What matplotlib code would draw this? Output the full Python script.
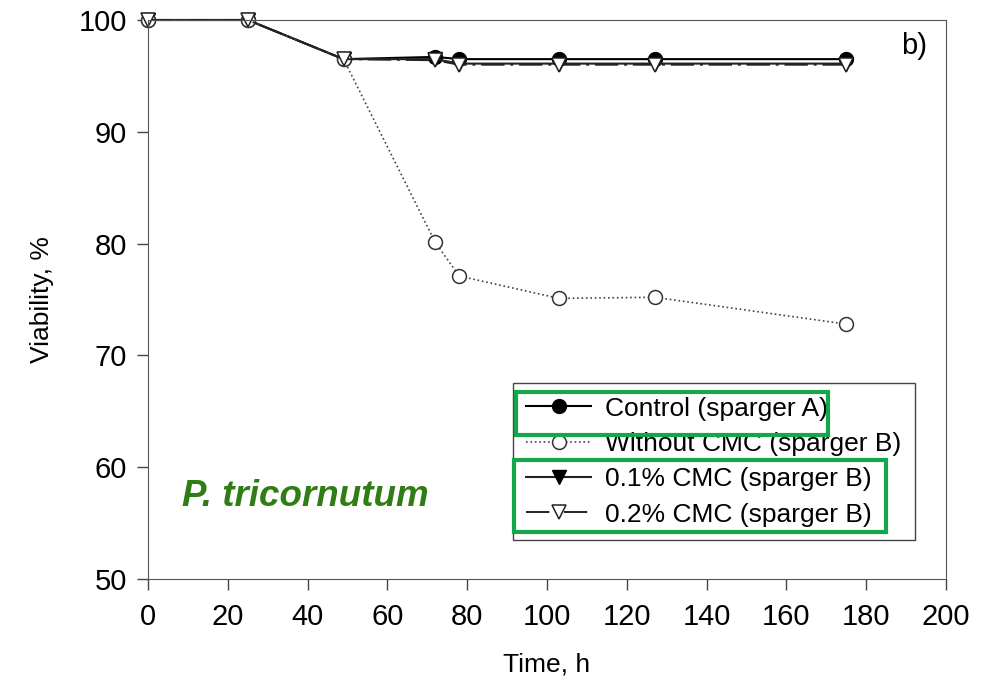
import matplotlib.pyplot as plt
from matplotlib.patches import Rectangle

# dados
tempo = [0, 25, 49, 72, 78, 103, 127, 175]
controle = [100, 100, 96.5, 96.7, 96.5, 96.5, 96.5, 96.5]
sem_cmc = [100, 100, 96.5, 80.1, 77.1, 75.1, 75.2, 72.8]
cmc_01 = [100, 100, 96.5, 96.5, 96.1, 96.1, 96.1, 96.1]
cmc_02 = [100, 100, 96.5, 96.4, 96.0, 96.0, 96.0, 96.0]

rotulos = ["Control (sparger A)", "Without CMC (sparger B)",
           "0.1% CMC (sparger B)", "0.2% CMC (sparger B)"]

plt.rcParams['font.family'] = ['Liberation Sans', 'DejaVu Sans']

fig = plt.figure(figsize=(9.89, 6.92), dpi=100)
ax = fig.add_axes([0.1497, 0.1633, 0.8068, 0.8078])

ms = 10
l_ctrl, = ax.plot(tempo, controle, '-', color='black', lw=1.5, marker='o', ms=ms,
                  mfc='black', mec='black', label=rotulos[0], clip_on=False)
l_01, = ax.plot(tempo, cmc_01, '-', color='#222222', lw=1.5, marker='v', ms=ms,
                mfc='black', mec='black', label=rotulos[2], clip_on=False)
l_sem, = ax.plot(tempo, sem_cmc, ':', color='#444444', lw=1.2, marker='o', ms=ms,
                 mfc='white', mec='#333333', mew=1.1, label=rotulos[1],
                 clip_on=False)
l_02, = ax.plot(tempo, cmc_02, color='#222222', lw=1.4, marker='v', ms=ms,
                mfc='white', mec='#222222', mew=1.1, label=rotulos[3],
                dashes=(12, 3, 1.5, 3), clip_on=False)

ax.set_xlim(0, 200)
ax.set_ylim(50, 100)
ax.set_xticks(range(0, 201, 20))
ax.set_yticks(range(50, 101, 10))
ax.tick_params(labelsize=21, direction='out', length=8, width=1, pad=9,
               color='#444444')
ax.tick_params(axis='y', pad=7)
for s in ax.spines.values():
    s.set_color('#555555')
ax.set_xlabel("Time, h", fontsize=19, labelpad=16)
ax.set_ylabel("Viability, %", fontsize=19, labelpad=18)

leg = ax.legend([l_ctrl, l_sem, l_01, l_02], rotulos,
                loc='lower right', bbox_to_anchor=(0.961, 0.07),
                fontsize=19, fancybox=False, edgecolor='#444444',
                framealpha=1, handlelength=2.45, handletextpad=0.55,
                labelspacing=0.43, borderpad=0.5, borderaxespad=0)
leg.get_frame().set_linewidth(1.0)

ax.text(0.976, 0.94, "b)", transform=ax.transAxes, fontsize=21, ha='right')
ax.text(182 / 989, 1 - 497 / 692, "P. tricornutum", transform=fig.transFigure,
        fontsize=26.5, color='#2f7d14', fontweight='bold', style='italic',
        va='center')

# caixas verdes de destaque
verde = '#12a84a'
for (x0, y0, x1, y1) in [(516, 392, 828, 435), (514, 460, 886, 532)]:
    fig.patches.append(Rectangle((x0 / 989, 1 - y1 / 692), (x1 - x0) / 989,
                                 (y1 - y0) / 692, transform=fig.transFigure,
                                 fill=False, edgecolor=verde, lw=3))

fig.savefig("out.png", dpi=100)
